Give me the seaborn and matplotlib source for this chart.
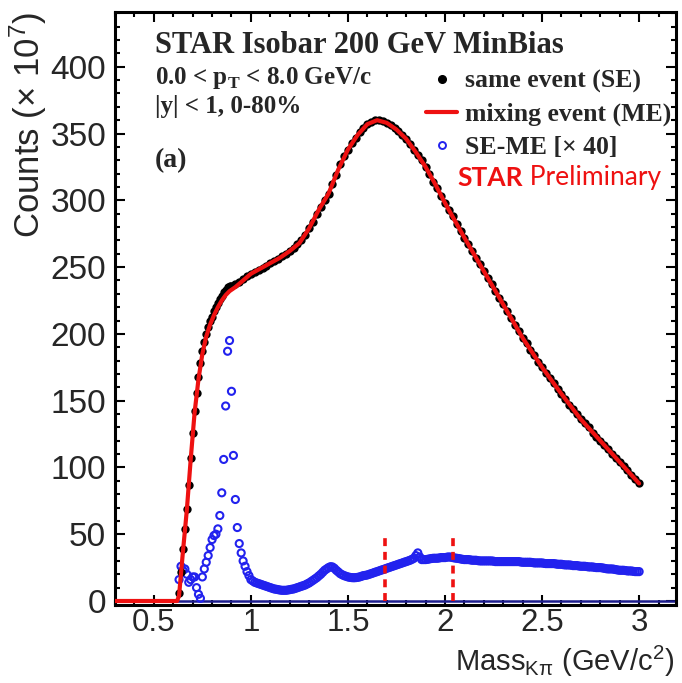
import numpy as np
import pandas as pd
import matplotlib
matplotlib.use("Agg")
import matplotlib.pyplot as plt
import seaborn as sns
from matplotlib.lines import Line2D
from matplotlib.ticker import MultipleLocator, FormatStrFormatter

# ---------------- data ----------------
# same event (SE) counts (x 1e7)
se_mass = [0.63, 0.64, 0.65, 0.66, 0.67, 0.68, 0.69, 0.70, 0.71, 0.72, 0.73, 0.74, 0.75, 0.76,
           0.77, 0.78, 0.79, 0.80, 0.81, 0.82, 0.83, 0.84, 0.85, 0.86, 0.87, 0.88, 0.89, 0.90,
           0.92, 0.94, 0.96, 0.98, 1.00, 1.02, 1.04, 1.06, 1.08, 1.10, 1.12, 1.14, 1.16, 1.18,
           1.20, 1.22, 1.24, 1.26, 1.28, 1.30, 1.32, 1.34, 1.36, 1.38, 1.40, 1.42, 1.44, 1.46,
           1.48, 1.50, 1.52, 1.54, 1.56, 1.58, 1.60, 1.62, 1.64, 1.66, 1.68, 1.70, 1.72, 1.74,
           1.76, 1.78, 1.80, 1.82, 1.84, 1.86, 1.88, 1.90, 1.92, 1.94, 1.96, 1.98, 2.00, 2.02,
           2.04, 2.06, 2.08, 2.10, 2.12, 2.14, 2.16, 2.18, 2.20, 2.22, 2.24, 2.26, 2.28, 2.30,
           2.32, 2.34, 2.36, 2.38, 2.40, 2.42, 2.44, 2.46, 2.48, 2.50, 2.52, 2.54, 2.56, 2.58,
           2.60, 2.62, 2.64, 2.66, 2.68, 2.70, 2.72, 2.74, 2.76, 2.78, 2.80, 2.82, 2.84, 2.86,
           2.88, 2.90, 2.92, 2.94, 2.96, 2.98, 3.00]
se_counts = [6, 22, 39, 54, 69, 87, 107, 126, 142, 156, 168, 178, 187, 194,
             200, 205, 210, 213, 217, 220, 223, 226, 228, 231, 233, 235, 236, 236,
             237, 239, 241, 243, 245, 246.5, 248, 249.5, 251, 253, 254.5, 256, 258, 260,
             262, 264.5, 267, 270, 274, 279, 284, 290, 295, 300, 305, 312, 319, 327,
             333, 338, 343, 347, 351, 354, 357, 359, 360, 360, 359.5, 358, 356.5, 354.5,
             352, 349, 346, 342, 338, 334, 330, 325, 320, 314, 309, 303, 298, 293,
             288, 282, 277, 272, 267, 262, 257, 252, 247, 242, 237, 232, 227, 222,
             217, 212, 207, 202, 197, 193, 188, 184, 179, 175, 171, 167, 163, 159,
             155, 151, 147, 144, 140, 136, 133, 130, 126, 123, 120, 117, 114, 110,
             107, 104, 101, 98, 94, 91, 88]

# mixing event (ME) counts (x 1e7)
me_mass = [0.30, 0.62, 0.63, 0.65, 0.67, 0.69, 0.71, 0.73, 0.75, 0.77, 0.79, 0.81, 0.83, 0.85,
           0.87, 0.89, 0.92, 0.96, 1.00, 1.05, 1.10, 1.15, 1.20, 1.25, 1.30, 1.35, 1.40, 1.45,
           1.50, 1.55, 1.60, 1.65, 1.70, 1.75, 1.80, 1.85, 1.90, 1.95, 2.00, 2.10, 2.20, 2.30,
           2.40, 2.50, 2.60, 2.70, 2.80, 2.90, 3.00]
me_counts = [0, 0, 4, 37, 68, 106, 141, 166, 185, 198, 207, 214, 220, 225,
             229, 232, 235, 240, 245, 249, 253, 257, 262, 268, 279, 293, 305, 323,
             338, 349, 357, 360, 358, 353, 346, 336, 325, 312, 298, 272, 247, 222,
             197, 175, 155, 136, 120, 104, 88]

# SE - ME, scaled by 40 (0.01 GeV/c^2 bins from 0.63 to 3.00)
diff_mass = np.round(np.arange(63, 301) / 100.0, 2)
diff_x40 = [16, 26, 23, 24, 20, 14, 16, 18, 18, 10, 5, 2, 18, 24,
            29, 34, 40, 46, 49, 50, 54, 64, 81, 106, 146, 187, 195, 157,
            109, 76, 55, 43, 36, 30, 26, 22, 19, 16,
            15, 14, 13.5, 13, 12.5, 12, 11.5, 11, 10.5, 10,
            9.5, 9, 8.8, 8.5, 8.2, 8, 8, 8, 8.2, 8.5,
            8.8, 9, 9.5, 10, 10.5, 11, 11.5, 12, 12.8, 13.5,
            14.5, 15.5, 16.5, 17.5, 18.8, 20, 21.5, 23, 24, 25,
            25.7, 25.5, 24.5, 23, 21.8, 20.5, 19.7, 19, 18.5, 18,
            17.7, 17.5, 17.4, 17.5, 17.7, 18, 18.5, 19, 19.2, 19.5,
            20, 20.5, 21, 21.5, 22, 22.5, 23, 23.5, 24, 24.5,
            25, 25.5, 26, 26.5, 27, 27.5, 28, 28.5, 29, 29.5,
            30, 30.5, 31.2, 32, 34, 36, 33, 31, 31, 31,
            31.2, 31.5, 31.8, 32, 32, 32, 32.2, 32.5, 32.5, 32.5,
            32.8, 33, 32.8, 32.5, 32.2, 32, 31.8, 31.5, 31.2, 31,
            31, 31, 30.8, 30.5, 30.5, 30.5, 30.2, 30, 30, 30,
            30, 30, 30, 30, 29.8, 29.5, 29.5, 29.5, 29.5, 29.5,
            29.5, 29.5, 29.5, 29.5, 29.5, 29.5, 29.5, 29.5, 29.2, 29,
            29, 29, 29, 29, 28.8, 28.5, 28.5, 28.5, 28.5, 28.5,
            28.2, 28, 28, 28, 28, 28, 27.8, 27.5, 27.5, 27.5,
            27.2, 27, 27, 27, 26.8, 26.5, 26.5, 26.5, 26.2, 26,
            26, 26, 25.8, 25.5, 25.5, 25.5, 25.2, 25, 25, 25,
            24.8, 24.5, 24.2, 24, 24, 24, 23.8, 23.5, 23.2, 23,
            23, 23, 22.8, 22.5, 22.5, 22.5, 22.2, 22, 22, 22]

# signal window markers
window_edges = [1.69, 2.04]
window_height = 50.7

x_ticks = [0.5, 1.0, 1.5, 2.0, 2.5, 3.0]
y_ticks = [0, 50, 100, 150, 200, 250, 300, 350, 400]

# ---------------- style ----------------
sns.set_style("ticks")
plt.rcParams["font.family"] = ["Liberation Sans", "DejaVu Sans"]
plt.rcParams["mathtext.fontset"] = "custom"
plt.rcParams["mathtext.rm"] = "Liberation Sans"
plt.rcParams["mathtext.it"] = "Liberation Sans:italic"
plt.rcParams["mathtext.bf"] = "Liberation Serif:bold"

se_df = pd.DataFrame({"mass": se_mass, "counts": se_counts})
me_df = pd.DataFrame({"mass": me_mass, "counts": me_counts})
diff_df = pd.DataFrame({"mass": diff_mass, "counts": diff_x40})

fig = plt.figure(figsize=(6.82, 6.83), dpi=100)
ax = fig.add_axes([115 / 682, 1 - 605 / 683, 561 / 682, 593 / 683])

ax.axhline(0, color="#1c1c8c", lw=1.8, zorder=1)

sns.scatterplot(data=diff_df, x="mass", y="counts", ax=ax, marker="o",
                s=26, facecolors="none", edgecolor="#2222ee", linewidth=1.5, zorder=2)
sns.scatterplot(data=se_df, x="mass", y="counts", ax=ax, marker="o",
                s=36, color="black", linewidth=0, zorder=3)
sns.lineplot(data=me_df, x="mass", y="counts", ax=ax, color="#ee1111",
             lw=3.0, zorder=4, sort=False)

ax.vlines(window_edges, 0, window_height, colors="#ee1111", linestyles=(0, (2.2, 1.6)),
          lw=2.6, zorder=5)

ax.set_xlim(0.3, 3.19)
ax.set_ylim(-3, 441)
ax.set_xticks(x_ticks)
ax.set_yticks(y_ticks)
ax.xaxis.set_major_formatter(FormatStrFormatter("%g"))
ax.xaxis.set_minor_locator(MultipleLocator(0.1))
ax.yaxis.set_minor_locator(MultipleLocator(10))

for s in ax.spines.values():
    s.set_linewidth(2.2)
    s.set_color("black")
ax.tick_params(which="both", direction="in", top=True, right=True, width=1.5, color="black")
ax.tick_params(which="major", length=7.5)
ax.tick_params(which="minor", length=3.8)
ax.tick_params(axis="y", which="major", labelsize=24, pad=6.5)
ax.tick_params(axis="x", which="major", labelsize=22.5, pad=2)

ax.set_xlabel(r"Mass$_{\mathrm{K\pi}}$ (GeV/c$^{2}$)", fontsize=21, loc="right")
ax.xaxis.set_label_coords(0.997, -0.066)
ax.set_ylabel(r"Counts (× 10$^{7}$)", fontsize=25, loc="top")
ax.yaxis.set_label_coords(-0.118, 1.0)

serif = ["Liberation Serif", "DejaVu Serif"]
ax.text(0.071, 0.944, "STAR Isobar 200 GeV MinBias", transform=ax.transAxes,
        family=serif, weight="bold", fontsize=22, va="center", ha="left")
ax.text(0.071, 0.889, r"0.0 < $\mathbf{p}_{\mathbf{T}}$ < 8.0 GeV/c", transform=ax.transAxes,
        family=serif, weight="bold", fontsize=18, va="center", ha="left")
ax.text(0.071, 0.841, "|y| < 1, 0-80%", transform=ax.transAxes,
        family=serif, weight="bold", fontsize=18, va="center", ha="left")
ax.text(0.071, 0.750, "(a)", transform=ax.transAxes,
        family=serif, weight="bold", fontsize=20, va="center", ha="left")

handles = [
    Line2D([], [], ls="none", marker="o", color="black", markersize=5.5),
    Line2D([], [], color="#ee1111", lw=3.0),
    Line2D([], [], ls="none", marker="o", markerfacecolor="none",
           markeredgecolor="#2222ee", markeredgewidth=1.4, markersize=5),
]
labels = ["same event (SE)", "mixing event (ME)", "SE-ME [× 40]"]
ax.legend(handles, labels, loc="upper left", bbox_to_anchor=(0.555, 0.903),
          frameon=False, prop={"family": serif, "weight": "bold", "size": 18.5},
          handlelength=1.2, handletextpad=0.3, labelspacing=0.39,
          borderpad=0, borderaxespad=0)

t1 = ax.text(0.611, 0.720, "STAR", transform=ax.transAxes, color="#ee1111",
             family=["Lato", "DejaVu Sans"], weight="bold", fontsize=19, va="center", ha="left")
ax.annotate(" Preliminary", xy=(1, 0), xycoords=t1, xytext=(0, 0), textcoords="offset points",
            color="#ee1111", family=["Lato", "DejaVu Sans"], fontsize=19, va="bottom", ha="left")

fig.savefig("out.png", dpi=100)
